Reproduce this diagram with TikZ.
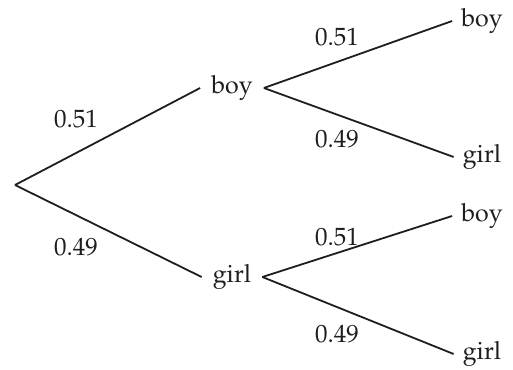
\documentclass[tikz,border=0pt]{standalone}
\usepackage[T1]{fontenc}
\usepackage{mathpazo}
\usetikzlibrary{positioning}
\definecolor{TreeInk}{HTML}{1E1E1E}
\tikzset{
  branch/.style={line width=1.8pt, draw=TreeInk},
  outcome/.style={inner xsep=11pt, inner ysep=0pt, text=TreeInk, font=\fontsize{25}{28}\selectfont},
  leaf/.style={outcome, inner xsep=9pt},
  prob/.style={inner sep=0pt, text=TreeInk, font=\fontsize{25}{28}\selectfont},
}
\begin{document}
\begin{tikzpicture}[x=1pt,y=-1pt]
        \useasboundingbox (0,0) rectangle (513,369);
        \coordinate (root) at (15,185);
        \node[outcome] (b) at (232,88) {boy};
        \node[outcome] (g) at (232,277) {girl};
        \node[leaf] (bb) at (482,21) {boy};
        \node[leaf] (bg) at (482,157) {girl};
        \node[leaf] (gb) at (482,216) {boy};
        \node[leaf] (gg) at (482,354) {girl};
        \draw[branch] (root) -- (b.west);
        \draw[branch] (root) -- (g.west);
        \draw[branch] (b.east) -- (bb.west);
        \draw[branch] (b.east) -- (bg.west);
        \draw[branch] (g.east) -- (gb.west);
        \draw[branch] (g.east) -- (gg.west);
        \node[prob] (pb) at (76,119) {0.51};
        \node[prob] (pg) at (76,247) {0.49};
        \node[prob] (pbb) at (337,37) {0.51};
        \node[prob] (pbg) at (337,139) {0.49};
        \node[prob] (pgb) at (337,237) {0.51};
        \node[prob] (pgg) at (337,334) {0.49};
      \end{tikzpicture}
\end{document}
